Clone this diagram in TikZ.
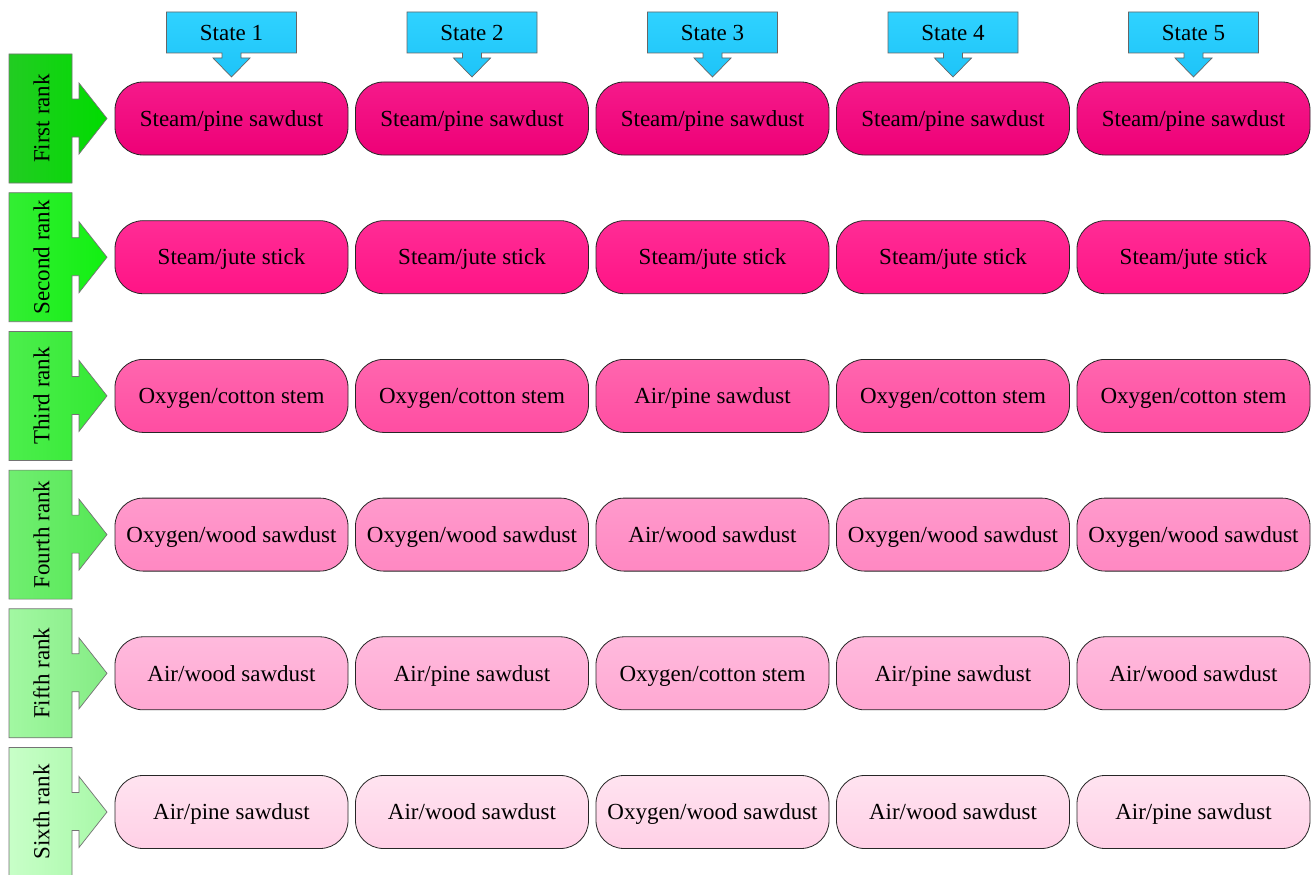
\documentclass[tikz,border=0pt]{standalone}
\usepackage{fontspec}
\setmainfont{Liberation Serif}
\definecolor{gL1}{HTML}{22CC22}\definecolor{gR1}{HTML}{00DC00}
\definecolor{gL2}{HTML}{33EE33}\definecolor{gR2}{HTML}{11F011}
\definecolor{gL3}{HTML}{4CEE4C}\definecolor{gR3}{HTML}{33EA33}
\definecolor{gL4}{HTML}{70EE70}\definecolor{gR4}{HTML}{55E855}
\definecolor{gL5}{HTML}{A2F8A2}\definecolor{gR5}{HTML}{84EC84}
\definecolor{gL6}{HTML}{C8FFC8}\definecolor{gR6}{HTML}{A8F8A8}
\definecolor{pT1}{HTML}{F51A8A}\definecolor{pB1}{HTML}{EE0077}
\definecolor{pT2}{HTML}{FF2C95}\definecolor{pB2}{HTML}{FF1486}
\definecolor{pT3}{HTML}{FF66AE}\definecolor{pB3}{HTML}{FF4DA2}
\definecolor{pT4}{HTML}{FF9ACC}\definecolor{pB4}{HTML}{FF88C2}
\definecolor{pT5}{HTML}{FFBADD}\definecolor{pB5}{HTML}{FFA8D2}
\definecolor{pT6}{HTML}{FFE3F0}\definecolor{pB6}{HTML}{FFD0E6}
\definecolor{stT}{HTML}{2FD2FF}\definecolor{stB}{HTML}{1EC4F8}
\newcommand\txtfont{\fontsize{23}{27}\selectfont}
\newcommand\cellrow[7]{%
  \pgfmathsetmacro\cy{118.5+138.7*(#1-1)}
  \path[rankshape, left color=gL#1, right color=gR#1]
    (9,\cy-64.5) -- (72,\cy-64.5) -- (72,\cy-19.5) -- (79,\cy-19.5) -- (79,\cy-35.5)
    -- (107,\cy) -- (79,\cy+35.5) -- (79,\cy+18.5) -- (72,\cy+18.5) -- (72,\cy+64.5)
    -- (9,\cy+64.5) -- cycle;
  \node[ranklabel] (k#1) at (41.5,\cy) {#2};
  \node[cell, top color=pT#1, bottom color=pB#1] (p#1-1) at (231.5,\cy) {#3};
  \node[cell, top color=pT#1, bottom color=pB#1] (p#1-2) at (472,\cy) {#4};
  \node[cell, top color=pT#1, bottom color=pB#1] (p#1-3) at (712.5,\cy) {#5};
  \node[cell, top color=pT#1, bottom color=pB#1] (p#1-4) at (953,\cy) {#6};
  \node[cell, top color=pT#1, bottom color=pB#1] (p#1-5) at (1193.5,\cy) {#7};
}
\begin{document}
\begin{tikzpicture}[x=1pt,y=-1pt,
  txt/.style={inner sep=0pt, font=\txtfont, text height=15.5pt, text depth=0pt},
  cell/.style={txt, draw=black!85, line width=0.8pt, rounded corners=28pt,
    minimum width=233pt, minimum height=73pt},
  rankshape/.style={draw=black!55, line width=0.7pt},
  ranklabel/.style={txt, rotate=90},
  stateshape/.style={draw=black!60, line width=0.7pt, top color=stT, bottom color=stB},
  statelabel/.style={txt}]
\useasboundingbox (0,0) rectangle (1312,875);
\fill[white] (0,0) rectangle (1312,875);
\foreach \i in {1,...,5}{
  \pgfmathsetmacro\sx{231.5+240.5*(\i-1)}
  \path[stateshape] (\sx-65,12) -- (\sx+65,12) -- (\sx+65,53) -- (\sx+9.5,53)
    -- (\sx+9.5,58) -- (\sx+18.5,58) -- (\sx,77) -- (\sx-18.5,58) -- (\sx-9.5,58)
    -- (\sx-9.5,53) -- (\sx-65,53) -- cycle;
  \node[statelabel] (s\i) at (\sx,33) {State \i};
}
\cellrow{1}{First rank}{Steam/pine sawdust}{Steam/pine sawdust}{Steam/pine sawdust}{Steam/pine sawdust}{Steam/pine sawdust}
\cellrow{2}{Second rank}{Steam/jute stick}{Steam/jute stick}{Steam/jute stick}{Steam/jute stick}{Steam/jute stick}
\cellrow{3}{Third rank}{Oxygen/cotton stem}{Oxygen/cotton stem}{Air/pine sawdust}{Oxygen/cotton stem}{Oxygen/cotton stem}
\cellrow{4}{Fourth rank}{Oxygen/wood sawdust}{Oxygen/wood sawdust}{Air/wood sawdust}{Oxygen/wood sawdust}{Oxygen/wood sawdust}
\cellrow{5}{Fifth rank}{Air/wood sawdust}{Air/pine sawdust}{Oxygen/cotton stem}{Air/pine sawdust}{Air/wood sawdust}
\cellrow{6}{Sixth rank}{Air/pine sawdust}{Air/wood sawdust}{Oxygen/wood sawdust}{Air/wood sawdust}{Air/pine sawdust}
\end{tikzpicture}
\end{document}
